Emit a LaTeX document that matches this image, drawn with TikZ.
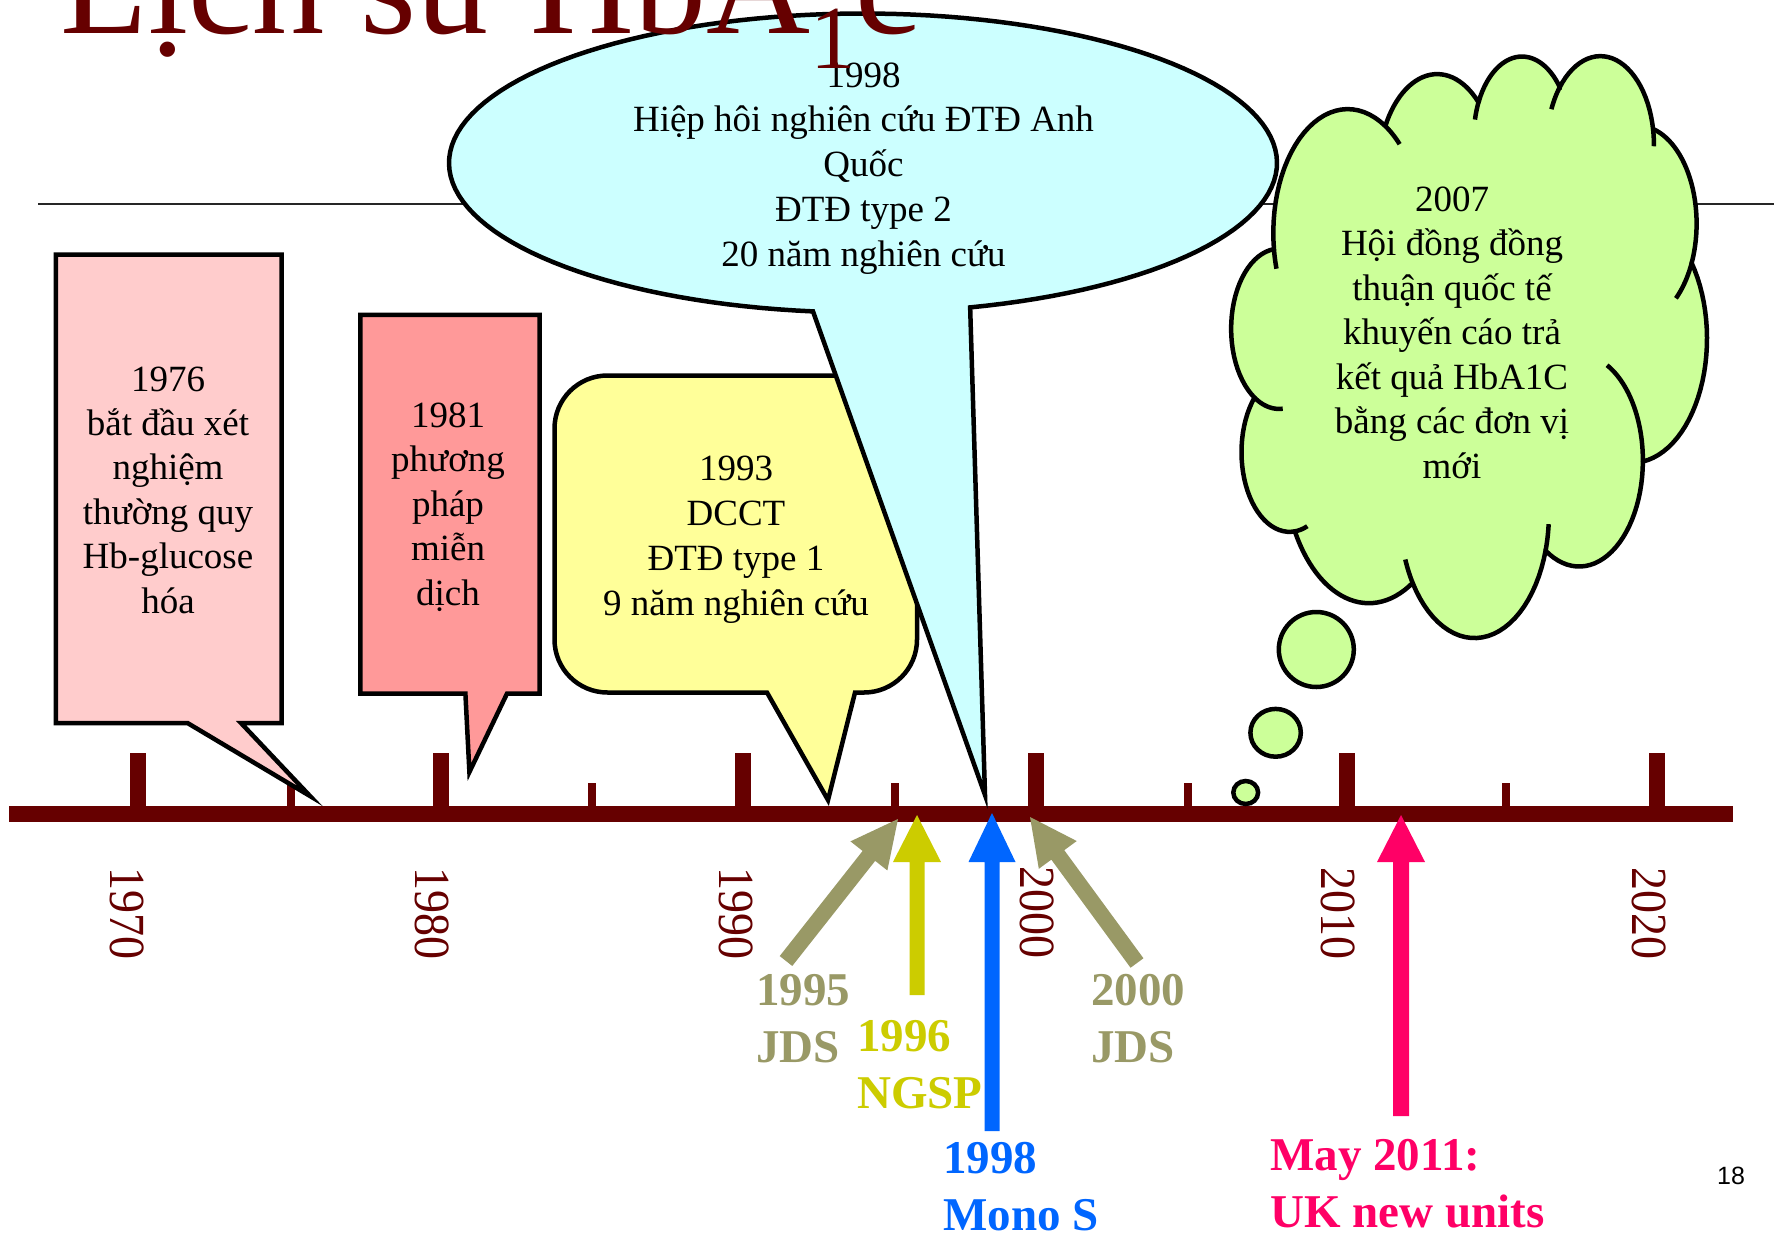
\documentclass[tikz,border=0pt]{standalone}
\usepackage{fontspec}
\setmainfont{Liberation Serif}
\newfontfamily\pgnumfont{Liberation Sans}
\usetikzlibrary{calc}

\definecolor{axisred}{HTML}{660000}
\definecolor{pinkA}{HTML}{FFCCCC}
\definecolor{pinkB}{HTML}{FF9999}
\definecolor{yellowC}{HTML}{FFFF99}
\definecolor{cyanD}{HTML}{CCFFFF}
\definecolor{greenE}{HTML}{CCFF99}
\definecolor{jdsolive}{HTML}{999966}
\definecolor{ngspyellow}{HTML}{CCCC00}
\definecolor{monoblue}{HTML}{0066FF}
\definecolor{ukpink}{HTML}{FF0066}

\newcommand\blockarrow[6]{%
  \coordinate (#3-b) at ($(#3)!#5!(#2)$);
  \fill[#1] (#3) -- ($(#3-b)!#6!90:(#3)$) -- ($(#3-b)!#4!90:(#3)$)
    -- ($(#2)!#4!90:(#3)$) -- ($(#2)!#4!-90:(#3)$)
    -- ($(#3-b)!#4!-90:(#3)$) -- ($(#3-b)!#6!-90:(#3)$) -- cycle;}

\begin{document}
\begin{tikzpicture}[x=1pt,y=-1pt,
  callout/.style={draw=black, line width=4.5pt, line join=miter},
  boxtext/.style={anchor=base, inner sep=0pt, font=\fontsize{37}{44.5}\selectfont},
  yearlbl/.style={rotate=-90, inner sep=0pt, text=axisred, font=\fontsize{46}{46}\selectfont},
  evlbl/.style={anchor=base west, inner sep=0pt, font=\bfseries\fontsize{47}{57.5}\selectfont},
  puff/.style={samples=30, variable=\t}]
\useasboundingbox (0,0) rectangle (1774,1234);
\fill[white] (0,0) rectangle (1774,1234);

% thin rule under title
\draw[line width=2pt, black!85] (38,204) -- (1774,204);

% time axis
\fill[axisred] (9,806) rectangle (1733,822);
\foreach \tx in {138,441,743,1036,1347,1657}
  \fill[axisred] (\tx-8,753) rectangle (\tx+8,806);
\foreach \tx in {291,592,895,1188,1506}
  \fill[axisred] (\tx-4,783) rectangle (\tx+4,806);

% 1976 callout
\filldraw[callout, fill=pinkA] (55.9,254.5) -- (281.7,254.5) -- (281.7,723) -- (241,723)
  -- (310,796) -- (187.5,723) -- (55.9,723) -- cycle;
\foreach \lnx [count=\i from 0] in {1976,bắt đầu xét,nghiệm,thường quy,Hb-glucose,hóa}
  \node[boxtext] (t76-\i) at (168,391+44.4*\i) {\lnx};

% 1981 callout
\filldraw[callout, fill=pinkB] (360.3,314.8) -- (539.6,314.8) -- (539.6,693.6) -- (507,693.6)
  -- (469.4,772) -- (465.4,693.6) -- (360.3,693.6) -- cycle;
\foreach \lnx [count=\i from 0] in {1981,phương,pháp,miễn,dịch}
  \node[boxtext] (t81-\i) at (448,427+44.5*\i) {\lnx};

% 1993 callout
\filldraw[callout, fill=yellowC] (607.5,375.5) -- (864,375.5)
  .. controls (893.3,375.5) and (917,399.2) .. (917,428.5) -- (917,639.5)
  .. controls (917,668.8) and (893.3,692.5) .. (864,692.5) -- (855,692.5)
  -- (828,800) -- (767,692.5) -- (607.5,692.5)
  .. controls (578.2,692.5) and (554.5,668.8) .. (554.5,639.5) -- (554.5,428.5)
  .. controls (554.5,399.2) and (578.2,375.5) .. (607.5,375.5) -- cycle;
\foreach \lnx [count=\i from 0] in {1993,DCCT,ĐTĐ type 1,9 năm nghiên cứu}
  \node[boxtext] (t93-\i) at (736,480+45*\i) {\lnx};

% 1998 ellipse callout
\filldraw[callout, fill=cyanD] (985,795) -- plot[domain=-263.06:75, samples=140, variable=\t]
  ({863+414*cos(\t)},{163+149.5*sin(\t)}) -- cycle;
\foreach \lnx [count=\i from 0] in {1998,Hiệp hôi nghiên cứu ĐTĐ Anh,Quốc,ĐTĐ type 2,20 năm nghiên cứu}
  \node[boxtext] (t98-\i) at (863.5,87+44.75*\i) {\lnx};

% 2007 cloud callout
\filldraw[callout, fill=greenE, line join=round]
  plot[puff, domain=172.255:300.37] ({1347.70+74.41*cos(\t)},{232.91+123.81*sin(\t)})
  -- plot[puff, domain=-152.03:-45.42] ({1437.22+58.76*cos(\t)},{172.00+97.90*sin(\t)})
  -- plot[puff, domain=-153.48:-37.33] ({1521.96+48.10*cos(\t)},{136.62+80.09*sin(\t)})
  -- plot[puff, domain=-139.69:-10.21] ({1600.39+53.52*cos(\t)},{144.98+88.85*sin(\t)})
  -- plot[puff, domain=-74.77:23.21] ({1637.84+58.76*cos(\t)},{223.64+97.98*sin(\t)})
  -- plot[puff, domain=-37.52:81.86] ({1632.35+74.65*cos(\t)},{338.51+124.21*sin(\t)})
  -- plot[puff, domain=0.46:121.98] ({1579.13+63.74*cos(\t)},{460.52+105.99*sin(\t)})
  -- plot[puff, domain=16.84:146.25] ({1474.49+74.40*cos(\t)},{513.92+124.15*sin(\t)})
  -- plot[puff, domain=58.98:150.20] ({1368.80+85.06*cos(\t)},{461.16+142.04*sin(\t)})
  -- plot[puff, domain=83.31:223.12] ({1289.52+48.04*cos(\t)},{452.12+79.73*sin(\t)})
  -- plot[puff, domain=120.36:264.11] ({1279.00+47.88*cos(\t)},{328.81+80.09*sin(\t)})
  -- cycle;
\begin{scope}[line width=4.5pt]
\draw plot[puff, domain=85.55:120.36] ({1279.00+47.88*cos(\t)},{328.81+80.09*sin(\t)});
\draw plot[puff, domain=68.24:83.31] ({1289.52+48.04*cos(\t)},{452.12+79.73*sin(\t)});
\draw plot[puff, domain=146.25:158.47] ({1474.49+74.40*cos(\t)},{513.92+124.15*sin(\t)});
\draw plot[puff, domain=4.74:16.84] ({1474.49+74.40*cos(\t)},{513.92+124.15*sin(\t)});
\draw plot[puff, domain=-64.02:0.46] ({1579.13+63.74*cos(\t)},{460.52+105.99*sin(\t)});
\draw plot[puff, domain=23.21:49.64] ({1637.84+58.76*cos(\t)},{223.64+97.98*sin(\t)});
\draw plot[puff, domain=-10.21:0.82] ({1600.39+53.52*cos(\t)},{144.98+88.85*sin(\t)});
\draw plot[puff, domain=-156.28:-139.69] ({1600.39+53.52*cos(\t)},{144.98+88.85*sin(\t)});
\draw plot[puff, domain=-167.72:-153.48] ({1521.96+48.10*cos(\t)},{136.62+80.09*sin(\t)});
\draw plot[puff, domain=300.37:314.23] ({1347.70+74.41*cos(\t)},{232.91+123.81*sin(\t)});
\draw plot[puff, domain=163.19:172.255] ({1347.70+74.41*cos(\t)},{232.91+123.81*sin(\t)});
\end{scope}
\filldraw[callout, fill=greenE] (1316.3,649.5) ellipse [x radius=37.5pt, y radius=37.5pt];
\filldraw[callout, fill=greenE] (1275.6,732.8) ellipse [x radius=25.2pt, y radius=23.9pt];
\filldraw[callout, fill=greenE] (1245.7,792.5) ellipse [x radius=12.4pt, y radius=11.5pt];
\foreach \lnx [count=\i from 0] in {2007,Hội đồng đồng,thuận quốc tế,khuyến cáo trả,kết quả HbA1C,bằng các đơn vị,mới}
  \node[boxtext] (t07-\i) at (1452,211+44.5*\i) {\lnx};

% year labels
\node[yearlbl] (y1970) at (127,913) {\scalebox{1}[1.1]{1970}};
\node[yearlbl] (y1980) at (432,913) {\scalebox{1}[1.1]{1980}};
\node[yearlbl] (y1990) at (736,913) {\scalebox{1}[1.1]{1990}};
\node[yearlbl] (y2000) at (1037,912) {\scalebox{1}[1.1]{2000}};
\node[yearlbl] (y2010) at (1338,913) {\scalebox{1}[1.1]{2010}};
\node[yearlbl] (y2020) at (1649,913) {\scalebox{1}[1.1]{2020}};

% event arrows
\coordinate (a95t) at (786,961);  \coordinate (a95h) at (898,819);
\coordinate (a96t) at (917,995);  \coordinate (a96h) at (917,815);
\coordinate (a98t) at (992,1131); \coordinate (a98h) at (992,813);
\coordinate (a00t) at (1137,963); \coordinate (a00h) at (1030,817);
\coordinate (a11t) at (1401,1116);\coordinate (a11h) at (1401,815);
\blockarrow{jdsolive}{a95t}{a95h}{8pt}{47pt}{23.5pt}
\blockarrow{ngspyellow}{a96t}{a96h}{7.5pt}{47pt}{24pt}
\blockarrow{monoblue}{a98t}{a98h}{7.5pt}{49pt}{23.5pt}
\blockarrow{jdsolive}{a00t}{a00h}{8pt}{47pt}{23.5pt}
\blockarrow{ukpink}{a11t}{a11h}{8pt}{47pt}{24pt}

% event labels
\foreach \lnx [count=\i from 0] in {1995,JDS}
  \node[evlbl, text=jdsolive] (e95-\i) at (756,1005+57.5*\i) {\lnx};
\foreach \lnx [count=\i from 0] in {1996,NGSP}
  \node[evlbl, text=ngspyellow] (e96-\i) at (857,1051+57.5*\i) {\lnx};
\foreach \lnx [count=\i from 0] in {1998,Mono S}
  \node[evlbl, text=monoblue] (e98-\i) at (943,1173+57.5*\i) {\lnx};
\foreach \lnx [count=\i from 0] in {2000,JDS}
  \node[evlbl, text=jdsolive] (e00-\i) at (1091,1005+57.5*\i) {\lnx};
\foreach \lnx [count=\i from 0] in {May 2011:,UK new units}
  \node[evlbl, text=ukpink] (e11-\i) at (1270,1170+57.5*\i) {\lnx};

% title
\node[anchor=base west, inner sep=0pt, text=axisred, font=\fontsize{144}{144}\selectfont]
  (title) at (60,33) {Lịch sử HbA\raisebox{-35pt}{\fontsize{90}{90}\selectfont 1}c};

% page number
\node[anchor=base west, inner sep=0pt, font=\pgnumfont\fontsize{25}{30}\selectfont] (pgno) at (1717,1184) {18};
\end{tikzpicture}
\end{document}
